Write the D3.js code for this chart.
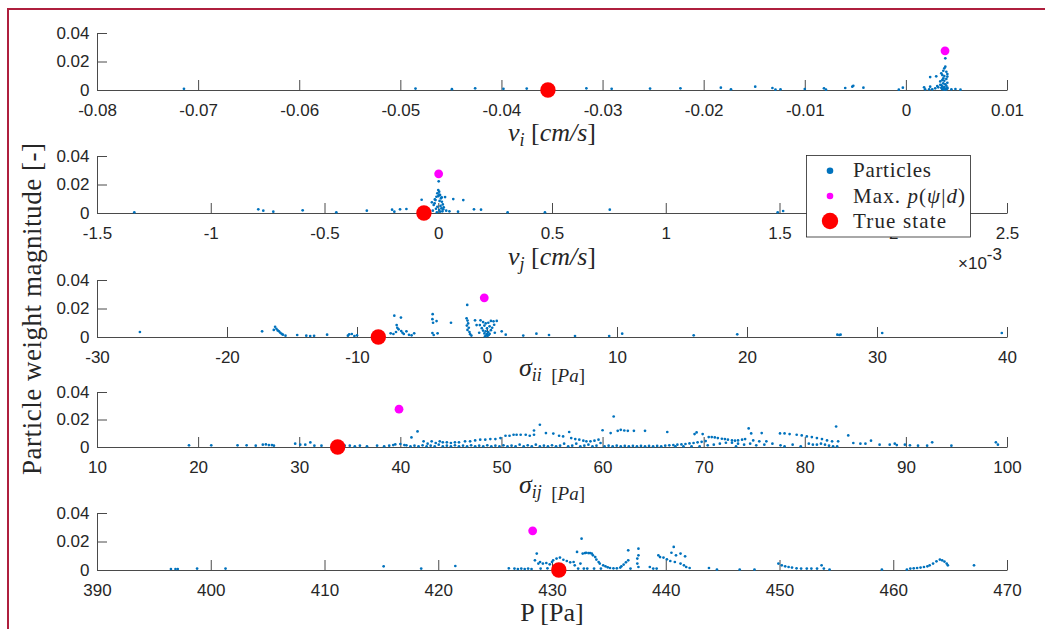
<!DOCTYPE html>
<html>
<head>
<meta charset="utf-8">
<script src="https://cdn.jsdelivr.net/npm/d3@7"></script>
<style>
  body { margin: 0; background: #fff; }
  svg { display: block; }
</style>
</head>
<body>
<svg id="chart" width="1045" height="629"></svg>
<script>
// ---------------- data ----------------
// particle clouds: [state value, particle weight]
const viParticles = [
  [-0.0714,0.0008],[-0.0485,0.0010],[-0.0449,0.0006],[-0.0426,0.0012],[-0.0398,0.0008],[-0.0375,0.0010],
  [-0.0316,0.0012],[-0.0291,0.0008],[-0.0253,0.0010],[-0.0223,0.0012],[-0.0183,0.0016],[-0.0173,0.0005],
  [-0.0149,0.0023],[-0.0132,0.0014],[-0.0129,0.0002],[-0.0124,0.0005],[-0.0100,0.0007],[-0.0081,0.0012],
  [-0.0079,0.0002],[-0.0060,0.0014],[-0.0053,0.0023],[-0.0052,0.0030],[-0.0042,0.0016],[-0.0007,0.0002],
  [-0.0003,0.0016],[0.0018,0.0019],[0.0019,0.0005],[0.0023,0.0005],[0.0024,0.0091],[0.0024,0.0023],
  [0.0030,0.0096],[0.0034,0.0037],[0.0026,0.0005],[0.0029,0.0012],[0.0031,0.0028],[0.0032,0.0019],
  [0.0039,0.0222],[0.0039,0.0164],[0.0038,0.0152],[0.0037,0.0135],[0.0040,0.0128],[0.0035,0.0117],
  [0.0041,0.0112],[0.0036,0.0105],[0.0038,0.0098],[0.0041,0.0094],[0.0037,0.0082],[0.0040,0.0078],
  [0.0036,0.0070],[0.0038,0.0065],[0.0034,0.0060],[0.0041,0.0051],[0.0037,0.0047],[0.0039,0.0040],
  [0.0035,0.0035],[0.0040,0.0030],[0.0036,0.0025],[0.0038,0.0020],[0.0041,0.0016],[0.0037,0.0012],
  [0.0039,0.0008],[0.0040,0.0004],[0.0036,0.0006],[0.0038,0.0002],[0.0041,0.0010],[0.0035,0.0015],
  [0.0045,0.0005],[0.0049,0.0007],[0.0054,0.0002]
];
const vjParticles = [
  [-1.336e-3,0.0005],[-0.791e-3,0.0026],[-0.769e-3,0.0016],[-0.725e-3,0.0009],[-0.596e-3,0.0019],
  [-0.448e-3,0.0005],[-0.314e-3,0.0016],[-0.203e-3,0.0023],[-0.193e-3,0.0009],[-0.168e-3,0.0026],
  [-0.140e-3,0.0028],[-0.073e-3,0.0093],
  [0.002e-3,0.0222],[0.000e-3,0.0161],[0.004e-3,0.0150],[-0.004e-3,0.0138],[0.008e-3,0.0126],
  [-0.008e-3,0.0114],[0.012e-3,0.0103],[-0.012e-3,0.0091],[0.016e-3,0.0079],[-0.016e-3,0.0068],
  [0.006e-3,0.0085],[0.020e-3,0.0060],[-0.020e-3,0.0056],[-0.028e-3,0.0075],[0.010e-3,0.0050],
  [-0.004e-3,0.0044],[0.024e-3,0.0040],[0.014e-3,0.0033],[-0.010e-3,0.0030],[0.004e-3,0.0021],
  [-0.024e-3,0.0016],[0.018e-3,0.0012],[0.008e-3,0.0009],[-0.006e-3,0.0005],[0.022e-3,0.0026],
  [-0.015e-3,0.0095],[0.015e-3,0.0110],[0.000e-3,0.0118],[0.005e-3,0.0130],
  [0.030e-3,0.0112],[0.066e-3,0.0098],[0.110e-3,0.0091],[0.035e-3,0.0016],[0.049e-3,0.0012],
  [0.087e-3,0.0009],[0.157e-3,0.0026],[0.188e-3,0.0023],[0.305e-3,0.0005],[0.469e-3,0.0005],
  [0.754e-3,0.0023],[1.492e-3,0.0005],[1.516e-3,0.0014]
];
const siiParticles = [
  [-26.7,0.0035],[-17.3,0.0040],[-16.4,0.0050],[-16.3,0.0072],[-16.2,0.0058],[-16.1,0.0046],
  [-16.0,0.0040],[-15.9,0.0030],[-15.8,0.0022],[-15.7,0.0016],[-15.5,0.0009],[-14.6,0.0014],
  [-13.9,0.0009],[-13.6,0.0007],[-13.3,0.0008],[-12.3,0.0016],[-10.7,0.0009],[-10.6,0.0019],
  [-10.4,0.0021],[-10.2,0.0007],[-10.0,0.0012],
  [-7.41,0.0026],[-7.2,0.0021],[-7.13,0.0150],[-7.0,0.0035],[-6.95,0.0084],[-6.9,0.0065],
  [-6.8,0.0054],[-6.62,0.0136],[-6.6,0.0042],[-6.5,0.0030],[-6.4,0.0021],[-6.2,0.0040],
  [-6.0,0.0015],[-5.8,0.0012],[-5.6,0.0026],
  [-4.18,0.0160],[-4.2,0.0125],[-4.15,0.0100],[-3.88,0.0112],[-4.2,0.0028],[-4.1,0.0014],[-3.8,0.0026],
  [-2.77,0.0100],
  [-1.52,0.0225],[-1.57,0.0131],[-1.5,0.0115],[-1.45,0.0095],[-1.55,0.0080],[-1.4,0.0065],
  [-1.5,0.0050],[-1.35,0.0035],[-1.3,0.0020],[-1.2,0.0010],[-0.92,0.0117],[-0.8,0.0084],
  [-0.5,0.0117],[-0.3,0.0105],[-0.1,0.0095],[0.1,0.0100],[0.3,0.0113],[0.5,0.0110],[0.75,0.0113],
  [-0.55,0.0084],[-0.2,0.0080],[0.2,0.0075],[0.55,0.0086],[-0.4,0.0062],[0.0,0.0060],[0.4,0.0065],
  [-0.3,0.0045],[-0.1,0.0040],[0.1,0.0035],[0.3,0.0048],[-0.2,0.0025],[0.0,0.0020],[0.2,0.0022],
  [-0.05,0.0012],[0.05,0.0008],[0.15,0.0015],[-0.15,0.0005],[-0.6,0.0030],[0.6,0.0030],
  [1.13,0.0040],[1.44,0.0016],
  [2.79,0.0010],[3.8,0.0023],[4.77,0.0014],[6.77,0.0007],[9.4,0.0007],[10.4,0.0023],[15.9,0.0012],
  [19.25,0.0019],[26.95,0.0016],[27.1,0.0014],[27.2,0.0016],[30.4,0.0028],[39.6,0.0028]
];
const sijParticles = [
  [19.1,0.0012],[21.3,0.0012],[23.9,0.0012],[24.8,0.0012],[25.7,0.0010],[26.4,0.0017],[26.7,0.0019],
  [27.0,0.0014],[27.3,0.0014],[27.5,0.0010],[29.6,0.0024],[30.1,0.0017],[30.6,0.0017],[31.1,0.0033],
  [31.5,0.0010],[32.2,0.0010],[34.5,0.0010],[35.0,0.0010],[35.5,0.0005],[36.0,0.0010],[36.7,0.0005],
  [37.7,0.0010],[38.4,0.0005],[38.9,0.0010],[39.3,0.0014],[39.5,0.0019],[40.0,0.0022],[40.4,0.0014],
  [41.1,0.0070],[41.7,0.0113],[41.4,0.0010],
  [42.3,0.0041],[42.7,0.0024],[43.1,0.0041],[43.5,0.0029],[43.9,0.0041],[44.2,0.0034],[44.6,0.0034],
  [45.0,0.0029],[45.4,0.0034],[45.8,0.0034],[46.4,0.0041],[46.9,0.0041],[47.4,0.0048],[47.9,0.0053],
  [48.4,0.0053],[48.9,0.0058],[49.4,0.0058],[49.9,0.0065],[50.4,0.0082],[50.8,0.0082],[51.2,0.0089],
  [51.5,0.0089],[51.9,0.0089],[52.4,0.0089],[52.8,0.0082],
  [53.22,0.0120],[53.22,0.0089],[53.8,0.0162],[54.4,0.0101],[55.13,0.0098],[55.7,0.0082],[56.1,0.0077],
  [56.7,0.0109],[56.9,0.0065],[57.3,0.0058],[57.7,0.0053],[58.1,0.0046],[58.4,0.0041],[58.8,0.0041],
  [59.2,0.0046],[59.6,0.0053],[60.0,0.0122],[60.8,0.0101],[61.1,0.0222],[61.5,0.0118],[61.8,0.0125],
  [62.15,0.0120],[62.5,0.0118],[63.1,0.0118],[64.2,0.0118],[66.4,0.0109],[69.1,0.0094],[69.3,0.0106],
  [69.9,0.0094],[70.5,0.0072],[70.8,0.0072],[71.1,0.0070],[71.4,0.0065],[71.8,0.0060],[72.1,0.0058],
  [72.4,0.0053],[72.8,0.0048],[73.1,0.0046],[73.4,0.0048],[73.8,0.0053],[74.1,0.0058],[74.45,0.0135],
  [74.7,0.0099],[74.9,0.0048],[75.5,0.0041],[75.74,0.0101],[76.2,0.0041],[77.55,0.0099],[78.0,0.0099],
  [78.5,0.0094],[79.2,0.0089],[79.7,0.0084],[80.2,0.0077],[80.7,0.0072],[81.2,0.0065],[81.7,0.0058],
  [82.2,0.0048],[82.7,0.0041],[83.1,0.0149],[83.3,0.0041],[84.3,0.0084],[84.8,0.0029],[85.5,0.0024],
  [86.0,0.0024],[86.55,0.0046],[87.4,0.0017],[88.4,0.0017],[88.9,0.0024],[89.1,0.0014],[89.9,0.0017],
  [90.4,0.0012],[91.2,0.0010],[92.1,0.0010],[92.6,0.0034],[94.5,0.0010],[98.9,0.0034],[99.1,0.0017],
  [40.6,0.0012],[41.0,0.0005],[41.8,0.0005],[42.2,0.0012],[42.6,0.0005],[43.0,0.0010],[43.4,0.0005],
  [43.8,0.0017],[44.2,0.0005],[44.6,0.0010],[45.0,0.0005],[45.4,0.0012],[45.8,0.0005],[46.2,0.0010],
  [46.6,0.0005],[47.0,0.0012],[47.4,0.0005],[47.8,0.0010],[48.2,0.0005],[48.6,0.0012],[49.0,0.0005],
  [49.4,0.0010],[49.8,0.0005],[50.2,0.0012],[50.6,0.0005],[51.0,0.0010],[51.4,0.0005],[51.8,0.0017],
  [52.2,0.0005],[52.6,0.0012],[53.0,0.0005],[53.4,0.0017],[53.8,0.0005],[54.2,0.0010],[54.6,0.0005],
  [55.0,0.0012],[55.4,0.0005],[55.8,0.0010],[56.2,0.0024],[56.6,0.0005],[57.0,0.0010],[57.4,0.0024],
  [57.8,0.0005],[58.2,0.0010],[58.6,0.0017],[59.0,0.0005],[59.4,0.0010],[59.8,0.0029],[60.2,0.0005],
  [60.6,0.0010],[61.0,0.0005],[61.4,0.0010],[61.8,0.0005],[62.2,0.0008],[62.6,0.0005],[63.0,0.0008],
  [63.4,0.0005],[63.8,0.0008],[64.2,0.0005],[64.6,0.0008],[65.0,0.0005],[65.4,0.0008],[65.8,0.0005],
  [66.2,0.0010],[66.6,0.0012],[67.0,0.0014],[67.4,0.0017],[67.8,0.0019],[68.2,0.0022],[68.6,0.0026],
  [69.0,0.0029],[69.4,0.0034],[69.8,0.0038],[70.2,0.0043],[67.2,0.0005],[68.0,0.0005],[68.8,0.0005],
  [69.6,0.0005],[70.4,0.0012],[71.0,0.0017],[71.6,0.0024],[72.2,0.0031],[72.8,0.0031],[73.4,0.0024],
  [73.2,0.0005],[74.0,0.0017],[74.6,0.0024],[75.2,0.0012],[76.0,0.0017],[76.8,0.0024],[77.6,0.0012],
  [78.0,0.0005],[78.8,0.0017],[79.6,0.0005],[80.4,0.0024],[80.8,0.0017],[81.2,0.0017],[81.6,0.0024],
  [82.0,0.0017],[82.4,0.0010],[82.8,0.0005],[83.2,0.0005]
];
const pParticles = [
  [396.5,0.0007],[396.9,0.0007],[397.1,0.0007],[398.8,0.0010],[401.3,0.0010],[415.2,0.0026],
  [418.5,0.0010],[421.5,0.0028],[426.2,0.0012],[426.7,0.0010],[427.0,0.0007],
  [427.3,0.0010],[427.6,0.0007],[427.9,0.0010],[428.2,0.0007],[428.5,0.0068],[428.66,0.0115],
  [428.8,0.0045],[428.95,0.0056],[429.2,0.0045],[429.5,0.0049],[429.8,0.0040],[430.0,0.0056],
  [430.1,0.0068],[430.4,0.0080],[430.7,0.0087],[431.0,0.0072],[431.3,0.0063],[431.6,0.0054],
  [431.9,0.0056],[432.0,0.0033],[432.2,0.0127],[432.3,0.0010],[432.5,0.0045],[432.6,0.0220],
  [432.7,0.0115],[432.9,0.0119],[433.0,0.0121],[433.2,0.0119],[433.35,0.0119],[433.5,0.0115],
  [433.6,0.0103],[433.8,0.0091],[433.9,0.0073],[434.1,0.0056],[434.2,0.0045],[434.5,0.0033],
  [434.7,0.0026],[434.9,0.0019],[435.1,0.0014],[435.4,0.0012],[435.7,0.0012],[436.0,0.0017],
  [436.1,0.0026],[436.3,0.0038],[436.5,0.0054],[436.7,0.0068],[436.7,0.0138],[436.9,0.0010],
  [437.5,0.0045],[437.5,0.0080],[437.6,0.0150],[437.6,0.0103],[437.6,0.0021],
  [432.8,0.0010],[433.1,0.0010],[433.7,0.0010],[434.3,0.0010],[429.0,0.0010],[429.6,0.0012],[430.3,0.0010],
  [438.6,0.0021],[438.9,0.0010],[439.2,0.0010],[439.35,0.0103],[439.5,0.0091],[439.8,0.0087],
  [440.1,0.0075],[440.4,0.0063],[440.5,0.0121],[440.7,0.0162],[440.8,0.0056],[440.9,0.0103],
  [441.3,0.0115],[441.3,0.0045],[441.6,0.0033],[441.7,0.0096],[441.8,0.0021],[442.1,0.0014],
  [443.8,0.0014],[444.5,0.0003],[446.5,0.0003],[447.8,0.0003],
  [449.9,0.0045],[450.2,0.0033],[450.5,0.0026],[450.8,0.0021],[451.1,0.0017],[451.5,0.0012],
  [451.9,0.0010],[452.4,0.0010],[452.8,0.0010],[453.3,0.0010],[453.7,0.0033],[453.9,0.0010],
  [454.4,0.0003],[459.0,0.0003],[461.2,0.0003],
  [461.5,0.0010],[461.8,0.0012],[462.1,0.0014],[462.4,0.0017],[462.7,0.0021],[463.0,0.0026],
  [463.2,0.0033],[463.5,0.0045],[463.8,0.0061],[464.1,0.0073],[464.3,0.0068],[464.5,0.0059],
  [464.7,0.0045],[464.8,0.0033],[467.1,0.0033]
];

// highest-posterior particle and true state, one entry per panel (v_i, v_j, σ_ii, σ_ij, P)
const maxPostX = [0.00387, 0.0018e-3, -0.21, 39.87, 428.3];
const maxPostW = [0.0275, 0.0275, 0.0275, 0.0275, 0.0275];
const trueStateX = [-0.0354, -0.063e-3, -8.36, 33.8, 430.6];

// axis ticks
const weightTicks = [0, 0.02, 0.04];
const weightTickLabels = ['0', '0.02', '0.04'];
const viTicks = [-0.08, -0.07, -0.06, -0.05, -0.04, -0.03, -0.02, -0.01, 0, 0.01];
const viTickLabels = ['-0.08', '-0.07', '-0.06', '-0.05', '-0.04', '-0.03', '-0.02', '-0.01', '0', '0.01'];
const vjTicks = [-1.5e-3, -1e-3, -0.5e-3, 0, 0.5e-3, 1e-3, 1.5e-3, 2e-3, 2.5e-3];
const vjTickLabels = ['-1.5', '-1', '-0.5', '0', '0.5', '1', '1.5', '2', '2.5'];
const siiTicks = [-30, -20, -10, 0, 10, 20, 30, 40];
const siiTickLabels = ['-30', '-20', '-10', '0', '10', '20', '30', '40'];
const sijTicks = [10, 20, 30, 40, 50, 60, 70, 80, 90, 100];
const sijTickLabels = ['10', '20', '30', '40', '50', '60', '70', '80', '90', '100'];
const pTicks = [390, 400, 410, 420, 430, 440, 450, 460, 470];
const pTickLabels = ['390', '400', '410', '420', '430', '440', '450', '460', '470'];

// ---------------- drawing ----------------
const svg = d3.select('#chart');
const AXIS = '#262626';
const BLUE = '#0072BD', MAGENTA = '#FF00FF', RED = '#FF0000';
const TICK_FONT = '"Liberation Sans", Arial, Helvetica, sans-serif';
const SERIF = '"Liberation Serif", "Times New Roman", serif';
const LEFT = 97, RIGHT = 1007;

svg.append('rect').attr('width', 1045).attr('height', 629).attr('fill', '#fff');
// figure frame
svg.append('path').attr('d', 'M8,629V9H1045')
  .attr('fill', 'none').attr('stroke', '#AE1F3D').attr('stroke-width', 2);

const panels = [
  { data: viParticles, ticks: viTicks, labels: viTickLabels, top: 33, bottom: 90, labelY: 141,
    label: [['v', 'i', 26], ['j', null]] },
  { data: vjParticles, ticks: vjTicks, labels: vjTickLabels, top: 156, bottom: 213, labelY: 265 },
  { data: siiParticles, ticks: siiTicks, labels: siiTickLabels, top: 280, bottom: 337, labelY: 377 },
  { data: sijParticles, ticks: sijTicks, labels: sijTickLabels, top: 392, bottom: 447, labelY: 493 },
  { data: pParticles, ticks: pTicks, labels: pTickLabels, top: 513, bottom: 570, labelY: 621 }
];

panels.forEach((p, i) => {
  const x = d3.scaleLinear().domain([p.ticks[0], p.ticks[p.ticks.length - 1]]).range([LEFT, RIGHT]);
  const y = d3.scaleLinear().domain([0, 0.04]).range([p.bottom, p.top]);
  const g = svg.append('g');

  const xAxis = g.append('g').attr('transform', `translate(0,${p.bottom})`)
    .call(d3.axisBottom(x).tickValues(p.ticks).tickFormat((d, k) => p.labels[k])
      .tickSizeInner(-10).tickSizeOuter(0).tickPadding(13.5));
  const yAxis = g.append('g').attr('transform', `translate(${LEFT},0)`)
    .call(d3.axisLeft(y).tickValues(weightTicks).tickFormat((d, k) => weightTickLabels[k])
      .tickSizeInner(-10).tickSizeOuter(0).tickPadding(7.5));
  [xAxis, yAxis].forEach(a => {
    a.attr('color', AXIS);
    a.selectAll('path, line').attr('stroke', '#4a4a4a');
    a.selectAll('text').attr('font-family', TICK_FONT).attr('font-size', 17).attr('fill', AXIS);
  });

  // particles, highest-posterior particle, true state
  g.append('g').selectAll('circle').data(p.data).join('circle')
    .attr('cx', d => x(d[0])).attr('cy', d => y(d[1])).attr('r', 1.35).attr('fill', BLUE);
  g.append('circle').attr('cx', x(maxPostX[i])).attr('cy', y(maxPostW[i])).attr('r', 4.4).attr('fill', MAGENTA);
  g.append('circle').attr('cx', x(trueStateX[i])).attr('cy', y(0)).attr('r', 7.7).attr('fill', RED);
});

// x-axis labels
function axisLabel(yPos, parts) {
  const t = svg.append('text').attr('x', 552).attr('y', yPos).attr('text-anchor', 'middle')
    .attr('font-family', SERIF).attr('fill', AXIS);
  parts.forEach(q => {
    const s = t.append('tspan').text(q.t).attr('font-size', q.size || 26);
    if (q.it) s.attr('font-style', 'italic');
    if (q.dy) s.attr('dy', q.dy);
  });
  return t;
}
axisLabel(141, [{t: 'v', it: 1}, {t: 'i', it: 1, size: 18, dy: 5}, {t: '\u00a0[', dy: -5}, {t: 'cm/s', it: 1}, {t: ']'}]);
axisLabel(265, [{t: 'v', it: 1}, {t: 'j', it: 1, size: 18, dy: 5}, {t: '\u00a0[', dy: -5}, {t: 'cm/s', it: 1}, {t: ']'}]);
axisLabel(376, [{t: '\u03c3', it: 1}, {t: 'ii', it: 1, size: 18, dy: 5}, {t: '\u00a0\u00a0[', size: 19, dy: 1}, {t: 'Pa', it: 1, size: 19}, {t: ']', size: 19}]);
axisLabel(493, [{t: '\u03c3', it: 1}, {t: 'ij', it: 1, size: 18, dy: 5}, {t: '\u00a0\u00a0[', size: 19, dy: 2}, {t: 'Pa', it: 1, size: 19}, {t: ']', size: 19}]);
axisLabel(621, [{t: 'P [Pa]'}]);

// exponent of the v_j axis
const expo = svg.append('text').attr('x', 958).attr('y', 269)
  .attr('font-family', TICK_FONT).attr('font-size', 17).attr('fill', AXIS);
expo.append('tspan').text('\u00d710');
expo.append('tspan').text('-3').attr('dy', -9);

// shared y label
svg.append('text')
  .attr('transform', 'translate(41,309) rotate(-90)')
  .attr('text-anchor', 'middle').attr('font-family', SERIF).attr('font-size', 27)
  .attr('textLength', 332).attr('lengthAdjust', 'spacing').attr('fill', AXIS)
  .text('Particle weight magnitude [-]');

// legend
const lg = svg.append('g');
lg.append('rect').attr('x', 806.5).attr('y', 155.5).attr('width', 164).attr('height', 81.5)
  .attr('fill', '#fff').attr('stroke', AXIS).attr('stroke-width', 0.8);
const legendRows = [
  { y: 170.7, r: 3.3, c: BLUE, parts: [{t: 'Particles'}], len: 78 },
  { y: 196, r: 3.3, c: MAGENTA, parts: [{t: 'Max. '}, {t: 'p', it: 1}, {t: '('}, {t: '\u03c8', it: 1}, {t: '|'}, {t: 'd', it: 1}, {t: ')'}], len: 112 },
  { y: 221, r: 8.2, c: RED, parts: [{t: 'True state'}], len: 93 }
];
legendRows.forEach(r => {
  lg.append('circle').attr('cx', 830).attr('cy', r.y).attr('r', r.r).attr('fill', r.c);
  const t = lg.append('text').attr('x', 853).attr('y', r.y + 6.5)
    .attr('font-family', SERIF).attr('font-size', 21).attr('fill', AXIS)
    .attr('textLength', r.len).attr('lengthAdjust', 'spacing');
  r.parts.forEach(q => {
    const s = t.append('tspan').text(q.t);
    if (q.it) s.attr('font-style', 'italic');
  });
});
</script>
</body>
</html>
